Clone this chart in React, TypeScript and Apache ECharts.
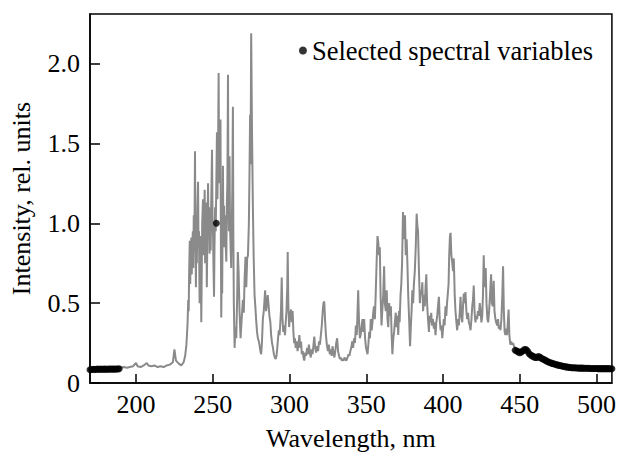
import React, { useEffect, useRef } from "react";
import * as echarts from "echarts";

const FONT = "'Liberation Serif', 'Times New Roman', serif";

const xTicks = [200, 250, 300, 350, 400, 450, 500];
const yTicks = [0, 0.5, 1.0, 1.5, 2.0];

const wavelengths = [
  170, 172, 174, 176, 178, 180, 182, 184, 186, 188, 190, 192, 194, 196, 198, 200, 201, 203, 205, 207,
  208, 210, 212, 214, 216, 218, 220, 222, 224, 225, 226, 228, 229.5, 231, 232, 232.8, 233.5,
  234.0, 234.3, 234.6, 235.0, 235.3, 235.6, 236.0, 236.3, 236.6, 237.0, 237.3, 237.6, 238.0, 238.4, 238.7, 239.0, 239.3, 239.6, 240.0,
  240.4, 240.7, 241.0, 241.4, 241.7, 242.0, 242.5, 242.8, 243.1, 243.6, 243.9, 244.2, 244.7, 245.0, 245.3, 245.8, 246.1, 246.4, 246.9,
  247.2, 247.6, 247.9, 248.2, 248.6, 249.0, 249.5, 249.8, 250.2, 250.5, 250.8, 251.1, 251.5, 251.9, 252.3, 252.7, 253.0, 253.4, 253.8,
  254.1, 254.5, 255.0, 255.3, 255.5, 255.8, 256.1, 256.6, 256.9, 257.3, 257.6, 257.9, 258.3, 258.8, 259.1, 259.5, 259.9, 260.2, 260.5,
  260.9, 261.2, 261.6, 262.0, 262.3, 262.7, 263.1, 263.4, 263.7,
  264.2, 264.7, 265.3, 265.9, 266.3, 266.8,
  267.4, 268.1, 268.8, 269.6, 270.2, 270.7, 271.3, 271.8, 272.4, 272.9, 273.5, 273.9, 274.3, 274.6, 275.0, 275.5, 276.1, 276.6, 277.2, 277.7,
  278.2, 278.8, 279.4, 280.0, 280.4, 281.0, 281.5, 282.0, 282.6, 283.2, 283.7, 284.1, 284.7, 285.3, 285.8, 286.4, 286.9, 287.5, 288.0, 288.6,
  289.2, 289.8, 290.4, 291.0, 291.5, 292.0, 292.5, 293.0, 293.5, 294.0, 294.4, 294.9, 295.4, 295.9, 296.5, 297.0, 297.5, 298.0, 298.5, 298.8,
  299.2, 299.7, 300.3, 301.0, 301.5, 302.0, 302.5, 303.0, 303.5, 304.0, 304.6, 305.2, 305.8, 306.4, 307.0, 307.5, 308.0, 308.6, 309.1, 309.6,
  310.2, 310.8, 311.4, 312.0, 312.6, 313.2, 313.8, 314.4, 315.0, 315.6, 316.1, 316.7, 317.3, 318.0, 318.6, 319.2, 319.8, 320.4, 321.0, 321.6,
  322.1, 322.6, 323.1, 323.7, 324.3, 325.0, 325.6, 326.2, 326.8, 327.4, 328.0, 328.6, 329.2, 329.8, 330.4, 331.0, 331.6, 332.2, 332.8, 333.4,
  334.0, 334.6, 335.2, 335.8, 336.4, 337.0, 337.8, 338.4, 339.0, 339.6, 340.2, 340.8, 341.4, 342.0, 342.6, 343.2, 343.8, 344.2, 344.7, 345.2,
  345.8, 346.3, 346.9, 347.5, 348.0, 348.6, 349.2, 349.8, 350.3, 350.8, 351.4, 351.9, 352.4, 352.9, 353.5, 354.0, 354.5, 355.0, 355.6, 356.1,
  356.7, 357.3, 357.8, 358.3, 358.8, 359.3, 359.9, 360.4, 361.0, 361.6, 362.1, 362.7, 363.3, 363.8, 364.3, 364.9, 365.4, 366.0, 366.5, 367.0,
  367.6, 368.1, 368.6, 369.2, 369.7, 370.3, 370.8, 371.3, 371.7, 372.3, 372.8, 373.3, 373.9, 374.4, 375.2, 375.7, 376.3, 376.8, 377.3, 377.9,
  378.5, 379.0, 379.5, 380.0, 380.5, 381.0, 381.6, 382.2, 382.8, 383.3, 383.7, 384.3, 384.9, 385.4, 386.0, 386.5, 387.0, 387.6, 388.1, 388.6,
  389.1, 389.6, 390.2, 390.8, 391.3, 391.8, 392.3, 392.8, 393.4, 394.0, 394.5, 395.1, 395.6, 396.2, 396.7, 397.3, 397.8, 398.4, 398.9, 399.5,
  400.0, 400.5, 401.0, 401.6, 402.1, 402.6, 403.1, 403.6, 404.0, 404.5, 404.9, 405.4, 406.0, 406.5, 407.0, 407.6, 408.1, 408.7, 409.2, 409.8,
  410.3, 410.9, 411.4, 411.9, 412.5, 413.0, 413.5, 414.1, 414.6, 415.2, 415.7, 416.3, 416.8, 417.4, 417.9, 418.5, 419.0, 419.5, 420.0, 420.5,
  421.1, 421.6, 422.2, 422.7, 423.3, 423.9, 424.4, 425.0, 425.5, 426.0, 426.5, 427.0, 427.8, 428.3, 428.9, 429.4, 430.0, 430.6, 431.3, 431.8,
  432.4, 433.0, 433.5, 434.1, 434.6, 435.2, 435.8, 436.3, 436.9, 437.4, 438.0, 438.6, 439.1, 439.6, 440.1, 440.6, 441.2, 441.7, 442.2, 442.7,
  443.2, 443.8, 444.4, 445.0, 445.6, 446.2, 447.0, 448, 450, 452, 453.5, 455, 457, 460, 462, 465, 470, 475, 480, 485,
  490, 495, 500, 505, 510,
];

const intensity = [
  0.085, 0.09, 0.088, 0.09, 0.087, 0.09, 0.088, 0.09, 0.089, 0.09, 0.095, 0.1, 0.095, 0.1, 0.105, 0.125, 0.105, 0.1, 0.11, 0.125,
  0.11, 0.105, 0.11, 0.1, 0.105, 0.1, 0.11, 0.115, 0.13, 0.21, 0.14, 0.12, 0.11, 0.13, 0.17, 0.24, 0.36,
  0.52, 0.45, 0.7, 0.89, 0.62, 0.8, 0.91, 0.68, 0.85, 0.95, 0.72, 1.05, 0.82, 1.45, 0.9, 0.6, 0.98, 0.75, 1.1,
  1.26, 0.85, 0.95, 0.5, 0.78, 0.92, 0.38, 0.7, 1.0, 1.15, 0.8, 0.95, 1.21, 0.75, 0.9, 1.13, 0.6, 0.85, 1.25,
  0.95, 1.1, 0.81, 1.0, 0.83, 1.15, 1.46, 1.05, 0.9, 0.7, 0.54, 0.85, 1.1, 0.95, 1.25, 1.57, 1.15, 1.4, 1.94,
  1.25, 1.5, 1.65, 0.8, 0.41, 0.7, 0.56, 1.36, 0.95, 1.11, 0.85, 1.05, 0.9, 0.76, 1.1, 1.25, 1.93, 1.1, 0.95,
  1.42, 1.0, 0.85, 0.72, 0.95, 1.2, 1.73, 0.9, 0.5,
  0.22, 0.35, 0.28, 0.55, 0.82, 0.7,
  0.45, 0.28, 0.4, 0.52, 0.44, 0.65, 0.79, 0.6, 0.78, 0.8, 1.0, 1.31, 1.68, 1.37, 2.19, 1.62, 1.11, 0.8, 0.55, 0.48,
  0.4, 0.32, 0.28, 0.26, 0.24, 0.2, 0.18, 0.25, 0.4, 0.45, 0.52, 0.58, 0.45, 0.5, 0.55, 0.48, 0.42, 0.38, 0.3, 0.25,
  0.22, 0.18, 0.16, 0.15, 0.17, 0.22, 0.28, 0.33, 0.3, 0.38, 0.45, 0.66, 0.4, 0.32, 0.36, 0.3, 0.38, 0.45, 0.6, 0.82,
  0.5, 0.35, 0.42, 0.46, 0.38, 0.45, 0.32, 0.25, 0.28, 0.22, 0.26, 0.2, 0.24, 0.3, 0.22, 0.26, 0.18, 0.2, 0.16, 0.14,
  0.19, 0.17, 0.22, 0.18, 0.24, 0.19, 0.16, 0.21, 0.18, 0.24, 0.29, 0.22, 0.19, 0.23, 0.2, 0.26, 0.24, 0.3, 0.36, 0.45,
  0.5, 0.51, 0.4, 0.3, 0.24, 0.2, 0.24, 0.18, 0.21, 0.17, 0.23, 0.19, 0.16, 0.2, 0.25, 0.28, 0.2, 0.17, 0.15, 0.16,
  0.14, 0.15, 0.14, 0.16, 0.15, 0.14, 0.16, 0.18, 0.17, 0.2, 0.22, 0.26, 0.22, 0.28, 0.25, 0.36, 0.3, 0.42, 0.58, 0.4,
  0.28, 0.3, 0.35, 0.4, 0.32, 0.4, 0.28, 0.22, 0.2, 0.18, 0.25, 0.32, 0.28, 0.4, 0.33, 0.38, 0.44, 0.48, 0.4, 0.55,
  0.75, 0.92, 0.88, 0.8, 0.85, 0.55, 0.36, 0.45, 0.55, 0.73, 0.5, 0.45, 0.58, 0.4, 0.35, 0.5, 0.42, 0.48, 0.3, 0.18,
  0.28, 0.32, 0.38, 0.44, 0.35, 0.42, 0.3, 0.45, 0.38, 0.55, 0.62, 0.75, 1.07, 0.9, 1.05, 0.8, 0.9, 0.74, 0.55, 0.4,
  0.23, 0.35, 0.45, 0.58, 0.5, 0.62, 0.7, 0.85, 1.06, 0.98, 0.95, 0.7, 0.5, 0.58, 0.55, 0.63, 0.45, 0.55, 0.48, 0.6,
  0.68, 0.5, 0.4, 0.32, 0.42, 0.38, 0.44, 0.36, 0.4, 0.34, 0.38, 0.3, 0.38, 0.42, 0.48, 0.54, 0.4, 0.33, 0.36, 0.28,
  0.34, 0.4, 0.36, 0.48, 0.42, 0.5, 0.56, 0.62, 0.8, 0.92, 0.94, 0.8, 0.75, 0.7, 0.78, 0.55, 0.45, 0.38, 0.33, 0.4,
  0.36, 0.45, 0.54, 0.42, 0.38, 0.48, 0.56, 0.5, 0.57, 0.45, 0.4, 0.44, 0.38, 0.36, 0.33, 0.4, 0.48, 0.52, 0.61, 0.45,
  0.38, 0.42, 0.4, 0.45, 0.42, 0.5, 0.45, 0.38, 0.42, 0.55, 0.8, 0.6, 0.72, 0.5, 0.4, 0.38, 0.45, 0.55, 0.68, 0.5,
  0.48, 0.64, 0.45, 0.4, 0.38, 0.36, 0.4, 0.34, 0.36, 0.33, 0.4, 0.55, 0.73, 0.45, 0.32, 0.3, 0.34, 0.3, 0.38, 0.46,
  0.3, 0.24, 0.26, 0.24, 0.25, 0.23, 0.22, 0.2, 0.19, 0.2, 0.21, 0.19, 0.17, 0.16, 0.165, 0.145, 0.123, 0.11, 0.1, 0.097,
  0.094, 0.093, 0.092, 0.092, 0.09,
];

const selWavelengths = [
  170, 171, 172, 173, 174, 175, 176, 177, 178, 179, 180, 181, 182, 183, 184, 185, 186, 187, 188, 189,
  252.3,
  447, 448, 449, 450, 451, 452, 453, 454, 455, 456, 457, 458, 459, 460, 461, 462, 463, 464, 465, 466,
  467, 468, 469, 470, 471, 472, 473, 474, 475, 476, 477, 478, 479, 480, 481, 482, 483, 484, 485, 486,
  487, 488, 489, 490, 491, 492, 493, 494, 495, 496, 497, 498, 499, 500, 501, 502, 503, 504, 505, 506,
  507, 508, 509, 510,
];

const selIntensity = [
  0.083, 0.085, 0.086, 0.085, 0.086, 0.087, 0.086, 0.087, 0.086, 0.087, 0.087, 0.086, 0.087, 0.088, 0.087, 0.088, 0.087, 0.088, 0.088, 0.089,
  1.0,
  0.205, 0.2, 0.195, 0.19, 0.195, 0.2, 0.21, 0.21, 0.2, 0.185, 0.175, 0.17, 0.165, 0.16, 0.16, 0.165, 0.162, 0.155, 0.15, 0.145,
  0.14, 0.135, 0.13, 0.127, 0.123, 0.12, 0.117, 0.114, 0.112, 0.11, 0.108, 0.105, 0.103, 0.101, 0.1, 0.098, 0.097, 0.096, 0.095, 0.095,
  0.094, 0.094, 0.093, 0.093, 0.093, 0.092, 0.092, 0.092, 0.092, 0.091, 0.091, 0.091, 0.091, 0.091, 0.09, 0.09, 0.09, 0.09, 0.09, 0.09,
  0.09, 0.09, 0.089, 0.089,
];

const seriesName = "Selected spectral variables";

export default function App() {
  const ref = useRef<HTMLDivElement>(null);
  useEffect(() => {
    if (!ref.current) return;
    const chart = echarts.init(ref.current, undefined, { renderer: "svg" });
    const lineData = wavelengths.map((w, i) => [w, intensity[i]]);
    const selData = selWavelengths.map((w, i) => [w, selIntensity[i]]);
    const text = { fontFamily: FONT, fontSize: 26, color: "#000" };
    chart.setOption({
      animation: false,
      backgroundColor: "#fff",
      grid: {
        left: 88,
        right: 7,
        top: 14,
        bottom: 64,
        show: true,
        borderColor: "#000",
        borderWidth: 1.5,
        backgroundColor: "transparent",
      },
      legend: {
        data: [seriesName],
        icon: "circle",
        itemWidth: 8,
        itemHeight: 8,
        right: 21,
        top: 32,
        textStyle: { ...text, fontSize: 26.5 },
        selectedMode: false,
      },
      xAxis: {
        type: "value",
        min: 170,
        max: 510,
        name: "Wavelength, nm",
        nameLocation: "middle",
        nameGap: 42,
        nameTextStyle: { ...text },
        axisLine: { show: true, onZero: false, lineStyle: { color: "#000", width: 1.5 } },
        axisTick: { show: true, inside: true, length: 9, customValues: xTicks, lineStyle: { color: "#000", width: 1.5 } },
        axisLabel: { ...text, margin: 8, customValues: xTicks },
        splitLine: { show: false },
      },
      yAxis: {
        type: "value",
        min: 0,
        max: 2.31,
        name: "Intensity, rel. units",
        nameLocation: "middle",
        nameGap: 56,
        nameTextStyle: { ...text },
        axisLine: { show: true, onZero: false, lineStyle: { color: "#000", width: 1.5 } },
        axisTick: { show: true, inside: true, length: 10, customValues: yTicks, lineStyle: { color: "#000", width: 1.5 } },
        axisLabel: {
          ...text,
          margin: 10,
          customValues: yTicks,
          formatter: (v: number) => (v === 0 ? "0" : v.toFixed(1)),
        },
        splitLine: { show: false },
      },
      series: [
        {
          name: "spectrum",
          type: "line",
          data: lineData,
          showSymbol: false,
          symbol: "none",
          lineStyle: { color: "#8a8a8a", width: 2 },
          itemStyle: { color: "#8a8a8a" },
          z: 2,
        },
        {
          name: seriesName,
          type: "scatter",
          data: selData,
          symbol: "circle",
          symbolSize: 7,
          itemStyle: { color: "#000" },
          z: 3,
        },
      ],
    });
    return () => chart.dispose();
  }, []);
  return (
    <div
      ref={ref}
      style={{ position: "fixed", left: 0, top: 0, width: 619, height: 456, background: "#fff" }}
    />
  );
}
